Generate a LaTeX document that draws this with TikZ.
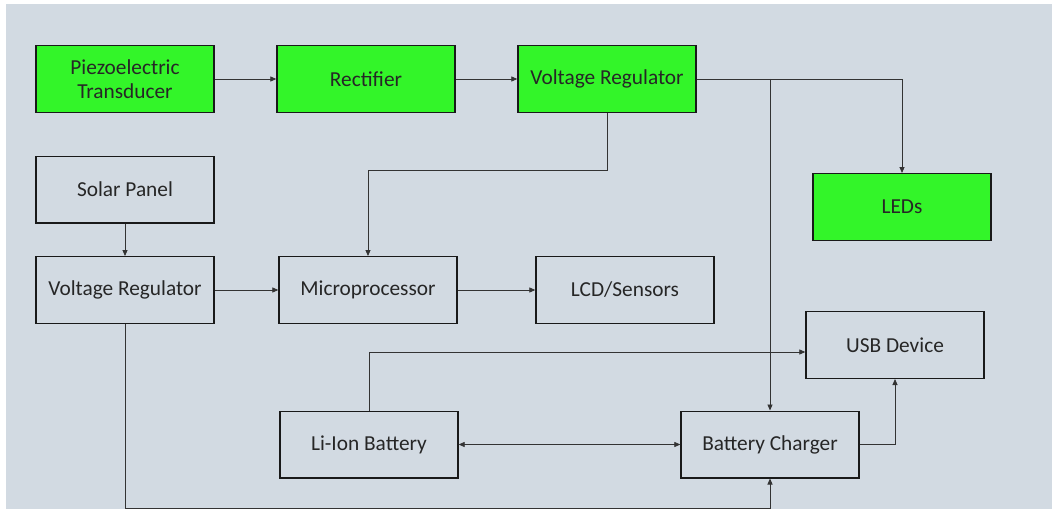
\documentclass[tikz,border=0pt]{standalone}
\usepackage{fontspec}
\setmainfont{Carlito}
\usetikzlibrary{arrows.meta}

\begin{document}
\begin{tikzpicture}[x=0.75pt,y=-0.75pt,
    block/.style={draw=black!90, line width=1pt, minimum width=133.5pt, minimum height=50pt,
        align=center, inner sep=2pt, font=\fontsize{16}{18}\selectfont, text=black!85},
    powered/.style={fill=harvestColor},
    wire/.style={draw=black!80, line width=0.6pt},
    feed/.style={-{Triangle[length=4.5pt,width=3.8pt]}},
    twoway/.style={{Triangle[length=4.5pt,width=3.8pt]}-{Triangle[length=4.5pt,width=3.8pt]}}]
    \definecolor{harvestColor}{RGB}{51,245,41}
    \definecolor{panelColor}{RGB}{210,218,226}

    \useasboundingbox (0,0) rectangle (1052,510);
    \fill[panelColor] (6,4) rectangle (1052,509);

    % energy harvesting chain
    \node[block, powered] (piezo) at (125,79) {Piezoelectric\\Transducer};
    \node[block, powered] (rect) at (366,79) {Rectifier};
    \node[block, powered] (vrtop) at (607,79) {Voltage Regulator};
    \node[block, powered] (leds) at (902,207) {LEDs};

    % solar side and loads
    \node[block] (solar) at (125,189.5) {Solar Panel};
    \node[block] (vrside) at (125,290) {Voltage Regulator};
    \node[block] (micro) at (368,290) {Microprocessor};
    \node[block] (lcd) at (625,290) {LCD/Sensors};
    \node[block] (usb) at (895,345) {USB Device};
    \node[block] (liion) at (369,444.5) {Li-Ion Battery};
    \node[block] (charger) at (770,444.5) {Battery Charger};

    \draw[wire, feed] (piezo) -- (rect);
    \draw[wire, feed] (rect) -- (vrtop);
    \draw[wire, feed] (vrtop.east) -| (leds.north);
    \coordinate (tap) at (charger.north |- vrtop.east);
    \draw[wire, feed] (tap) -- (charger.north);
    \draw[wire, feed] (vrtop.south) -- ++(0,57) -| (micro.north);

    \draw[wire, feed] (solar) -- (vrside);
    \draw[wire, feed] (vrside) -- (micro);
    \draw[wire, feed] (micro) -- (lcd);

    \draw[wire, twoway] (liion) -- (charger);
    \draw[wire, feed] (liion.north) |- ([yshift=-5.25pt]usb.west);
    \draw[wire, feed] (charger.east) -| (usb.south);
    \draw[wire, feed] (vrside.south) -- ++(0,184) -| (charger.south);
\end{tikzpicture}
\end{document}
